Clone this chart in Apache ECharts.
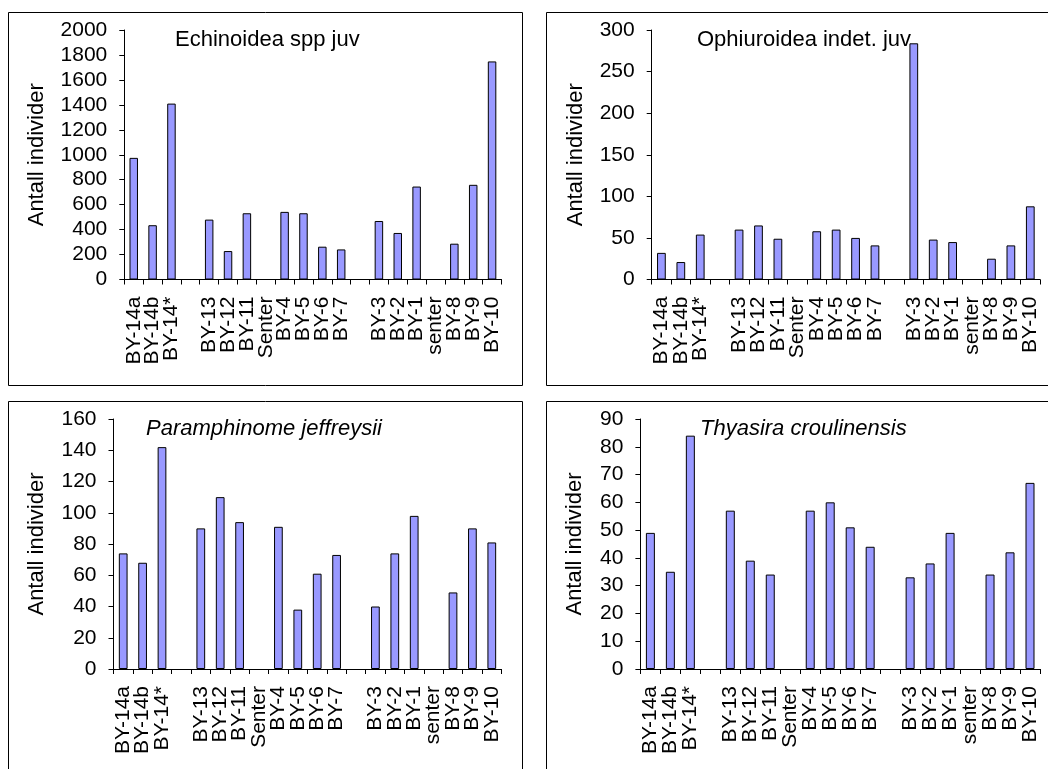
<!DOCTYPE html>
<html><head><meta charset="utf-8">
<script src="https://cdn.jsdelivr.net/npm/echarts@6/dist/echarts.min.js"></script>
<style>html,body{margin:0;padding:0;background:#fff}#c{width:1048px;height:769px}</style>
</head><body><div id="c"></div>
<script>
// ---- data ----
const categories = ['BY-14a','BY-14b','BY-14*',' ','BY-13','BY-12','BY-11','Senter','BY-4','BY-5','BY-6','BY-7','  ','BY-3','BY-2','BY-1','senter','BY-8','BY-9','BY-10'];
const echinoidea   = [975, 435, 1410, null, 480, 228, 531, null, 542, 531, 263, 241, null, 469, 373, 745, null, 287, 759, 1748];
const ophiuroidea  = [32, 21, 54, null, 60, 65, 49, null, 58, 60, 50, 41, null, 284, 48, 45, null, 25, 41, 88];
const paramphinome = [74, 68, 142, null, 90, 110, 94, null, 91, 38, 61, 73, null, 40, 74, 98, null, 49, 90, 81];
const thyasira     = [49, 35, 84, null, 57, 39, 34, null, 57, 60, 51, 44, null, 33, 38, 49, null, 34, 42, 67];
const titles = ['Echinoidea spp juv', 'Ophiuroidea indet. juv', 'Paramphinome jeffreysii', 'Thyasira croulinensis'];
const yMax  = [2000, 300, 160, 90];
const yStep = [200, 50, 20, 10];
const yName = 'Antall individer';

// ---- layout ----
const FONT = "'Liberation Sans', Arial, sans-serif";
const seriesData = [echinoidea, ophiuroidea, paramphinome, thyasira];
const grids = [
  {left: 124.3, top: 30, width: 377.2, height: 249.5},
  {left: 651.7, top: 30, width: 388.3, height: 249.5},
  {left: 113.5, top: 419, width: 388, height: 250},
  {left: 640.4, top: 419, width: 399.6, height: 250}
];
const nameGaps = [76, 65, 65.5, 54];
const titlePos = [{left: 175, top: 29}, {left: 697, top: 29}, {left: 146, top: 418}, {left: 700, top: 418}];
const panels = [[8.5, 12.5], [546.5, 12.5], [8.5, 401.5], [546.5, 401.5]];

const option = {
  animation: false,
  backgroundColor: '#fff',
  title: titles.map((t, i) => ({
    text: t, left: titlePos[i].left, top: titlePos[i].top, padding: 0,
    textStyle: {fontFamily: FONT, fontSize: 22, fontWeight: 'normal', color: '#000',
      fontStyle: i >= 2 ? 'italic' : 'normal'}
  })),
  graphic: panels.map(p => ({
    type: 'rect', silent: true, z: -1,
    shape: {x: p[0], y: p[1], width: 514, height: 373},
    style: {fill: 'none', stroke: '#000', lineWidth: 1}
  })),
  grid: grids.map(g => Object.assign({containLabel: false}, g)),
  xAxis: grids.map((g, i) => ({
    type: 'category', gridIndex: i, data: categories, boundaryGap: true,
    axisLine: {lineStyle: {color: '#000', width: 1}},
    axisTick: {show: true, alignWithLabel: false, interval: 0, length: 5, lineStyle: {color: '#000'}},
    axisLabel: {interval: 0, rotate: 90, margin: 17, color: '#000', fontFamily: FONT, fontSize: 21},
    splitLine: {show: false}
  })),
  yAxis: grids.map((g, i) => ({
    type: 'value', gridIndex: i, min: 0, max: yMax[i], interval: yStep[i],
    name: yName, nameLocation: 'middle', nameGap: nameGaps[i], nameRotate: 90,
    nameTextStyle: {fontFamily: FONT, fontSize: 22, color: '#000'},
    axisLine: {show: true, lineStyle: {color: '#000', width: 1}},
    axisTick: {show: true, length: 5, lineStyle: {color: '#000'}},
    axisLabel: {margin: 17, color: '#000', fontFamily: FONT, fontSize: 21, formatter: v => String(v)},
    splitLine: {show: false}
  })),
  series: seriesData.map((d, i) => ({
    type: 'bar', xAxisIndex: i, yAxisIndex: i, data: d, barWidth: '45%',
    itemStyle: {color: '#9999ff', borderColor: '#000', borderWidth: 1},
    emphasis: {disabled: true}
  }))
};
const chart = echarts.init(document.getElementById('c'), null, {renderer: 'canvas'});
chart.setOption(option);
</script>
</body></html>
